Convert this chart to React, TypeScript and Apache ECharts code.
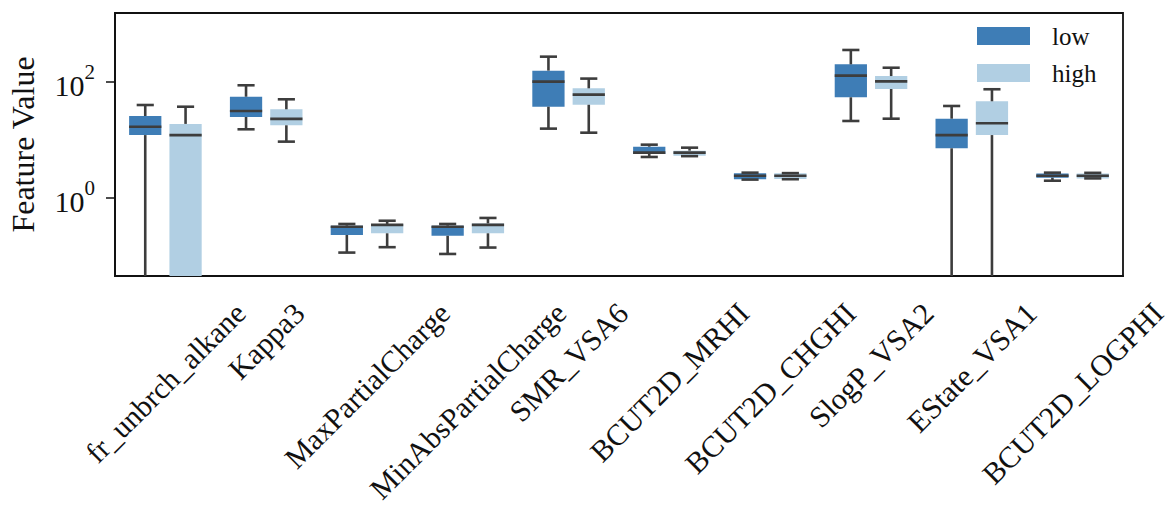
import React, { useEffect, useRef } from "react";
import * as echarts from "echarts";

// ---------- data ----------
const categories = [
  "fr_unbrch_alkane",
  "Kappa3",
  "MaxPartialCharge",
  "MinAbsPartialCharge",
  "SMR_VSA6",
  "BCUT2D_MRHI",
  "BCUT2D_CHGHI",
  "SlogP_VSA2",
  "EState_VSA1",
  "BCUT2D_LOGPHI",
];
const seriesNames = ["low", "high"];
// [lower whisker, Q1, median, Q3, upper whisker]
const lowValues = [
  [0, 12.0, 16.7, 25.6, 39.6],
  [15.1, 24.6, 31.3, 55, 86.7],
  [0.113, 0.227, 0.316, 0.329, 0.352],
  [0.107, 0.22, 0.316, 0.329, 0.352],
  [15.5, 37, 100, 155, 270],
  [5.03, 5.66, 5.97, 7.57, 8.2],
  [2.05, 2.07, 2.39, 2.63, 2.7],
  [21, 53.8, 127, 199, 352],
  [0, 7.1, 12.0, 23, 38.1],
  [1.96, 2.21, 2.39, 2.6, 2.7],
];
const highValues = [
  [0, 0, 12.0, 18.7, 37],
  [9.25, 17.7, 22.8, 33.4, 49.7],
  [0.14, 0.243, 0.339, 0.352, 0.4],
  [0.138, 0.243, 0.34, 0.36, 0.447],
  [13.2, 40, 59.7, 76.8, 113],
  [5.2, 5.3, 5.97, 6.46, 7.28],
  [2.08, 2.1, 2.39, 2.63, 2.65],
  [23, 74.8, 101, 125, 174],
  [0, 12.0, 19.2, 45.9, 74],
  [2.15, 2.15, 2.39, 2.6, 2.68],
];
const yTickValues = [1, 100];
const yMin = 0.0446;
const yMax = 1528;

// ---------- styles ----------
const FONT = "'Liberation Serif', 'Times New Roman', serif";
const LOW_COLOR = "#3e7db6";
const HIGH_COLOR = "#b1cfe3";
const LINE_COLOR = "#3d3d3d";
const TEXT_COLOR = "#111";
const X_FONT = 30;
const LABEL_TOP = 300;

function measure(text: string, size: number): number {
  const ctx = document.createElement("canvas").getContext("2d");
  if (!ctx) return text.length * size * 0.45;
  ctx.font = `${size}px ${FONT}`;
  return ctx.measureText(text).width;
}

function makeSeries(name: string, values: number[][], color: string, side: number) {
  return {
    type: "custom",
    name,
    clip: true,
    itemStyle: { color },
    data: values.map((v, i) => [i, ...v]),
    encode: { x: 0, y: [1, 2, 3, 4, 5] },
    renderItem: (params: any, api: any) => {
      const idx = api.value(0);
      const band = api.size([1, 0])[0];
      const boxW = band * 0.32;
      const capW = band * 0.17;
      const cx = api.coord([idx, 1])[0] + side * band * 0.2;
      const toY = (v: number) => api.coord([idx, v > 0 ? v : yMin / 3])[1];
      const [wl, q1, md, q3, wh] = [1, 2, 3, 4, 5].map((d) => toY(api.value(d)));
      const ls = { stroke: LINE_COLOR, lineWidth: 2.6 };
      return {
        type: "group",
        children: [
          {
            type: "rect",
            shape: { x: cx - boxW / 2, y: q3, width: boxW, height: q1 - q3 },
            style: { fill: color },
          },
          { type: "line", shape: { x1: cx, y1: q1, x2: cx, y2: wl }, style: ls },
          { type: "line", shape: { x1: cx, y1: q3, x2: cx, y2: wh }, style: ls },
          { type: "line", shape: { x1: cx - capW / 2, y1: wl, x2: cx + capW / 2, y2: wl }, style: ls },
          { type: "line", shape: { x1: cx - capW / 2, y1: wh, x2: cx + capW / 2, y2: wh }, style: ls },
          { type: "line", shape: { x1: cx - boxW / 2, y1: md, x2: cx + boxW / 2, y2: md }, style: ls },
        ],
      };
    },
  };
}

export default function App() {
  const ref = useRef<HTMLDivElement>(null);
  useEffect(() => {
    if (!ref.current) return;
    const chart = echarts.init(ref.current, null, { renderer: "svg" });
    chart.setOption({
      animation: false,
      textStyle: { fontFamily: FONT },
      grid: {
        left: 115,
        right: 48,
        top: 13,
        bottom: 232,
        show: true,
        borderColor: TEXT_COLOR,
        borderWidth: 1.8,
        outerBoundsMode: "none",
      },
      legend: {
        data: [
          { name: seriesNames[0], itemStyle: { color: LOW_COLOR } },
          { name: seriesNames[1], itemStyle: { color: HIGH_COLOR } },
        ],
        orient: "vertical",
        left: 972,
        top: 18.5,
        icon: "rect",
        itemWidth: 53,
        itemHeight: 18,
        itemGap: 12,
        textStyle: { fontFamily: FONT, fontSize: 25, color: TEXT_COLOR, padding: [0, 0, 0, 17] },
      },
      xAxis: {
        type: "category",
        data: categories,
        axisLine: { lineStyle: { color: TEXT_COLOR, width: 1.8 } },
        axisTick: { alignWithLabel: true, length: 8, lineStyle: { color: TEXT_COLOR, width: 1.5 } },
        axisLabel: { show: false },
        splitLine: { show: false },
      },
      yAxis: {
        type: "log",
        logBase: 10,
        min: yMin,
        max: yMax,
        name: "Feature Value",
        nameLocation: "middle",
        nameGap: 76,
        nameTextStyle: { fontFamily: FONT, fontSize: 32, color: TEXT_COLOR },
        axisLine: { show: true, lineStyle: { color: TEXT_COLOR, width: 1.8 } },
        axisTick: { show: true, length: 9, customValues: yTickValues, lineStyle: { color: TEXT_COLOR, width: 1.5 } },
        minorTick: { show: false },
        splitLine: { show: false },
        axisLabel: {
          customValues: yTickValues,
          margin: 20,
          formatter: (v: number) => `{b|10}{s|${Math.round(Math.log10(v))}}`,
          rich: {
            b: { fontFamily: FONT, fontSize: 30, color: TEXT_COLOR, padding: [8, 0, 0, 0] },
            s: { fontFamily: FONT, fontSize: 21, color: TEXT_COLOR, padding: [0, 0, 20, 0] },
          },
        },
      },
      series: [
        makeSeries(seriesNames[0], lowValues, LOW_COLOR, -1),
        makeSeries(seriesNames[1], highValues, HIGH_COLOR, 1),
      ],
    });

    // Rotated category labels, centred horizontally on each tick (matplotlib ha="center")
    const labels = categories.map((c, i) => {
      const x = chart.convertToPixel({ xAxisIndex: 0 }, i) as number;
      const w = measure(c, X_FONT);
      const y = LABEL_TOP + Math.SQRT1_2 * (w / 2 + X_FONT * 0.37);
      return {
        type: "text",
        x,
        y,
        rotation: Math.PI / 4,
        silent: true,
        style: {
          text: c,
          fontFamily: FONT,
          fontSize: X_FONT,
          fill: TEXT_COLOR,
          align: "center",
          verticalAlign: "middle",
          textAlign: "center",
          textVerticalAlign: "middle",
        },
      };
    });
    chart.setOption({ graphic: labels });
    return () => chart.dispose();
  }, []);
  return (
    <div
      ref={ref}
      style={{ position: "fixed", left: 0, top: 0, width: 1171, height: 508, background: "#fff" }}
    />
  );
}
